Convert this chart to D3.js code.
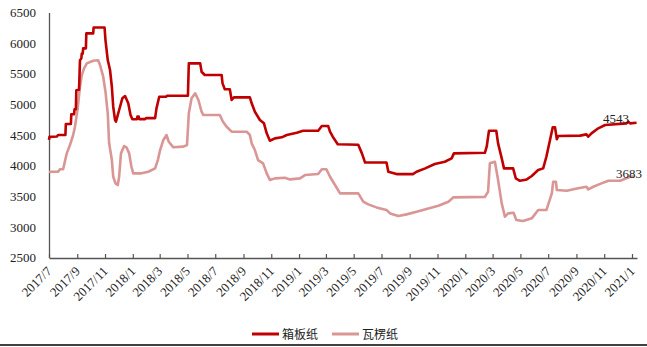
<!DOCTYPE html>
<html>
<head>
<meta charset="utf-8">
<script src="https://cdn.jsdelivr.net/npm/d3@7"></script>
<style>
  body { margin: 0; background: #fff; }
  svg { display: block; }
</style>
</head>
<body>
<script>
// 箱板纸 price series (yuan/ton), dates
var boxDates = ["2017-07-01","2017-07-02","2017-07-18","2017-07-21","2017-08-06","2017-08-07","2017-08-18","2017-08-19",
  "2017-08-25","2017-08-26","2017-08-29","2017-08-30","2017-09-05","2017-09-07","2017-09-10","2017-09-11","2017-09-13",
  "2017-09-14","2017-09-20","2017-09-21","2017-10-06","2017-10-07","2017-10-31","2017-11-02","2017-11-07","2017-11-12",
  "2017-11-16","2017-11-19","2017-11-23","2017-11-25","2017-12-02","2017-12-09","2017-12-15","2017-12-22","2017-12-27",
  "2017-12-31","2018-01-10","2018-01-11","2018-01-14","2018-01-15","2018-01-28","2018-01-30","2018-02-19","2018-02-22",
  "2018-02-28","2018-03-15","2018-03-17","2018-05-02","2018-05-04","2018-05-29","2018-06-01","2018-06-08","2018-07-15",
  "2018-07-17","2018-07-22","2018-08-02","2018-08-06","2018-08-11","2018-09-15","2018-09-19","2018-09-26","2018-10-07",
  "2018-10-16","2018-10-22","2018-10-29","2018-11-09","2018-11-24","2018-12-05","2018-12-27","2019-01-10","2019-02-12",
  "2019-02-20","2019-03-06","2019-03-10","2019-03-16","2019-03-27","2019-05-11","2019-05-19","2019-05-26","2019-07-12",
  "2019-07-16","2019-08-03","2019-09-08","2019-09-16","2019-10-05","2019-10-26","2019-11-17","2019-12-02","2019-12-07",
  "2020-02-13","2020-02-17","2020-02-22","2020-03-09","2020-03-13","2020-03-21","2020-03-26","2020-04-15","2020-04-21",
  "2020-04-30","2020-05-15","2020-05-26","2020-06-09","2020-06-20","2020-06-27","2020-07-05","2020-07-11","2020-07-16",
  "2020-07-20","2020-07-23","2020-09-09","2020-09-23","2020-09-27","2020-10-04","2020-10-19","2020-11-03","2020-12-20",
  "2020-12-24","2020-12-28","2021-01-11"];
var boxValues = [4420,4470,4475,4500,4500,4680,4680,4840,
  4840,4920,4920,5230,5240,5720,5750,5830,5830,
  5915,5915,6160,6160,6255,6255,6050,5724,5561,
  5288,4962,4745,4717,4908,5099,5136,5017,4826,
  4756,4756,4800,4800,4760,4760,4775,4775,4935,
  5125,5125,5140,5140,5670,5670,5533,5480,5480,
  5343,5246,5246,5071,5115,5115,5017,4880,4745,
  4690,4527,4407,4445,4462,4500,4537,4570,4570,
  4646,4646,4554,4472,4350,4340,4200,4050,4050,
  3900,3862,3862,3900,3955,4026,4063,4119,4200,
  4210,4309,4570,4570,4364,4119,3955,3955,3792,
  3753,3775,3830,3928,3955,4145,4418,4625,4625,
  4430,4483,4490,4510,4472,4527,4609,4663,4690,
  4717,4690,4700];

// 瓦楞纸 price series
var corrDates = ["2017-07-01","2017-07-21","2017-07-25","2017-08-01","2017-08-09","2017-08-16","2017-08-23","2017-08-27",
  "2017-09-02","2017-09-07","2017-09-11","2017-09-16","2017-09-22","2017-10-06","2017-10-17","2017-10-21","2017-10-28",
  "2017-11-02","2017-11-07","2017-11-10","2017-11-16","2017-11-19","2017-11-24","2017-11-29","2017-12-02","2017-12-06",
  "2017-12-13","2017-12-18","2017-12-24","2017-12-29","2018-01-02","2018-01-20","2018-02-04","2018-02-19","2018-02-25",
  "2018-03-02","2018-03-09","2018-03-16","2018-03-21","2018-03-31","2018-04-22","2018-04-30","2018-05-04","2018-05-10",
  "2018-05-18","2018-05-25","2018-06-01","2018-06-05","2018-07-11","2018-07-18","2018-07-26","2018-08-06","2018-09-08",
  "2018-09-15","2018-09-19","2018-09-26","2018-10-03","2018-10-14","2018-10-22","2018-10-29","2018-11-09","2018-12-01",
  "2018-12-12","2019-01-03","2019-01-14","2019-02-12","2019-02-20","2019-03-02","2019-03-10","2019-03-21","2019-04-01",
  "2019-05-11","2019-05-22","2019-06-02","2019-06-20","2019-07-12","2019-07-20","2019-08-07","2019-08-25","2019-09-16",
  "2019-10-12","2019-11-03","2019-11-25","2019-12-06","2020-02-13","2020-02-20","2020-02-24","2020-03-06","2020-03-13",
  "2020-03-21","2020-03-28","2020-04-04","2020-04-16","2020-04-22","2020-05-07","2020-05-26","2020-06-09","2020-06-27",
  "2020-07-09","2020-07-12","2020-07-18","2020-07-20","2020-08-11","2020-09-02","2020-09-23","2020-09-27","2020-10-08",
  "2020-10-26","2020-11-10","2020-12-06","2020-12-28","2021-01-05"];
var corrValues = [3900,3900,3940,3940,4200,4336,4500,4635,
  4935,5288,5480,5589,5670,5713,5720,5643,5452,
  5207,4854,4364,4091,3818,3710,3683,3818,4200,
  4320,4299,4200,3982,3874,3874,3900,3955,4091,
  4254,4418,4500,4390,4299,4310,4336,4854,5100,
  5180,5071,4880,4826,4826,4717,4635,4554,4554,
  4500,4364,4254,4091,4037,3874,3765,3792,3802,
  3775,3792,3846,3862,3940,3940,3818,3683,3547,
  3547,3411,3367,3318,3275,3220,3177,3204,3247,
  3302,3345,3411,3482,3490,3574,4037,4063,3765,
  3384,3166,3220,3231,3111,3095,3139,3275,3275,
  3547,3737,3737,3601,3590,3628,3655,3612,3655,
  3710,3753,3753,3818,3820];

var yTicks = [2500,3000,3500,4000,4500,5000,5500,6000,6500];
var xTickLabels = ["2017/7","2017/9","2017/11","2018/1","2018/3","2018/5","2018/7","2018/9","2018/11",
  "2019/1","2019/3","2019/5","2019/7","2019/9","2019/11","2020/1","2020/3","2020/5","2020/7","2020/9",
  "2020/11","2021/1"];
var seriesNames = ["箱板纸","瓦楞纸"];
var seriesColors = ["#c00000","#d99694"];
var endLabels = ["4543","3683"];

function draw() {
  var w = 647, h = 347;
  var svg = d3.select("body").append("svg")
    .attr("width", w).attr("height", h);

  var parse = d3.timeParse("%Y-%m-%d");
  var tickFmt = d3.timeParse("%Y/%m");

  var x = d3.scaleTime()
    .domain([parse("2017-07-01"), parse("2021-01-12")])
    .range([49, 637]);
  var y = d3.scaleLinear()
    .domain([2500, 6500])
    .range([257.5, 12.5]);

  var serif = "'Liberation Serif','Times New Roman',serif";

  // y axis: line + labels, no tick marks
  var yAxis = d3.axisLeft(y).tickValues(yTicks).tickSize(0).tickPadding(13)
    .tickFormat(d3.format("d"));
  var gy = svg.append("g").attr("transform", "translate(49,0)").call(yAxis);
  gy.select(".domain").attr("stroke", "#555").attr("stroke-width", 1.3);
  gy.selectAll("text").attr("font-family", serif).attr("font-size", 13).attr("fill", "#222");

  // x axis, ticks point upward
  var xTickDates = xTickLabels.map(function(s) { return tickFmt(s); });
  var xAxis = d3.axisBottom(x).tickValues(xTickDates).tickSizeInner(-4).tickSizeOuter(0)
    .tickFormat(d3.timeFormat("%Y/%-m"));
  var gx = svg.append("g").attr("transform", "translate(0,258)").call(xAxis);
  gx.select(".domain").attr("stroke", "#555").attr("stroke-width", 1.3);
  gx.selectAll(".tick line").attr("stroke", "#555").attr("stroke-width", 1.2);
  gx.selectAll("text")
    .attr("font-family", serif).attr("font-size", 13).attr("fill", "#222")
    .attr("text-anchor", "end")
    .attr("y", 0).attr("dy", 0)
    .attr("transform", "translate(3,14) rotate(-45)");

  var line = d3.line()
    .x(function(d) { return x(d.date); })
    .y(function(d) { return y(d.value); });

  var series = [
    boxDates.map(function(d, i) { return { date: parse(d), value: boxValues[i] }; }),
    corrDates.map(function(d, i) { return { date: parse(d), value: corrValues[i] }; })
  ];

  // light line drawn first so the dark one sits on top
  [1, 0].forEach(function(i) {
    svg.append("path")
      .datum(series[i])
      .attr("fill", "none")
      .attr("stroke", seriesColors[i])
      .attr("stroke-width", 2.6)
      .attr("stroke-linejoin", "round")
      .attr("d", line);
  });

  // end value labels
  svg.append("text").attr("x", 603).attr("y", 123).text(endLabels[0])
    .attr("font-family", serif).attr("font-size", 13).attr("fill", "#222");
  svg.append("text").attr("x", 616).attr("y", 178).text(endLabels[1])
    .attr("font-family", serif).attr("font-size", 13).attr("fill", "#222");

  // legend
  var legX = [252, 332];
  seriesNames.forEach(function(name, i) {
    svg.append("line")
      .attr("x1", legX[i]).attr("x2", legX[i] + 27)
      .attr("y1", 334).attr("y2", 334)
      .attr("stroke", seriesColors[i]).attr("stroke-width", 3);
    svg.append("text")
      .attr("x", legX[i] + 30).attr("y", 338.5)
      .text(name)
      .attr("font-family", "'Noto Sans CJK SC',sans-serif")
      .attr("font-size", 12).attr("fill", "#222");
  });

  // bottom rule
  svg.append("line")
    .attr("x1", 0).attr("x2", w).attr("y1", 345).attr("y2", 345)
    .attr("stroke", "#000").attr("stroke-width", 1.5);
}

window.onload = draw;
</script>
</body>
</html>
